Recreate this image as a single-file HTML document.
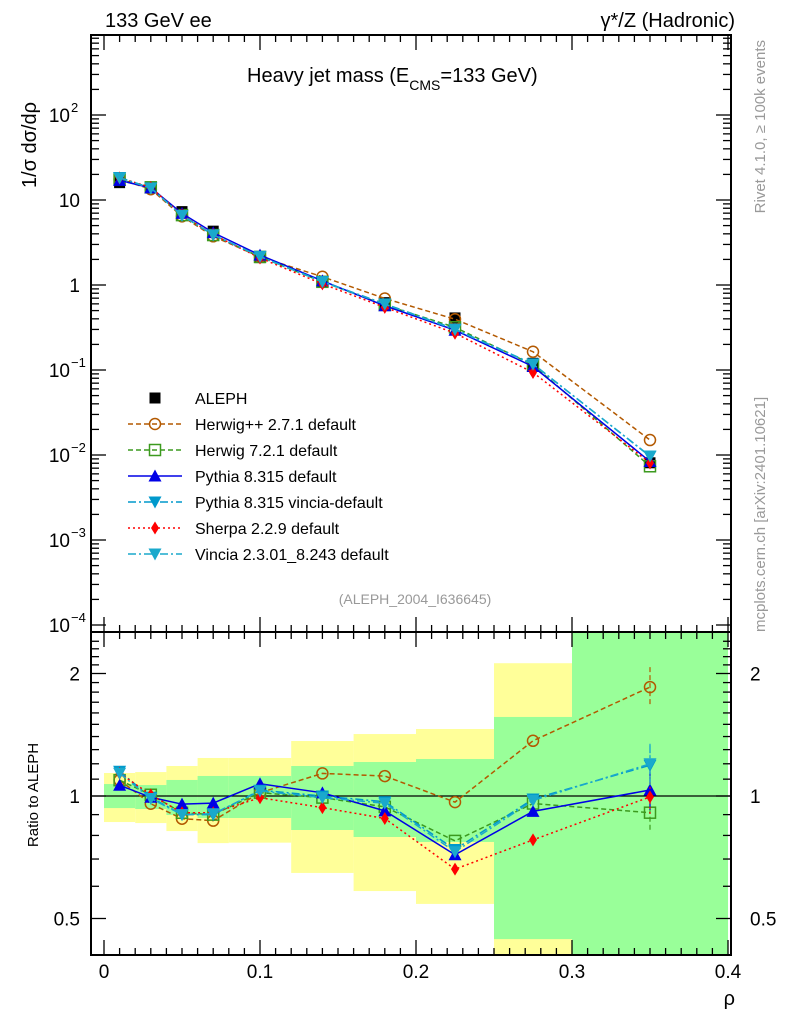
<!DOCTYPE html>
<html><head><meta charset="utf-8"><style>
body{margin:0;background:#fff;}
svg text{font-family:"Liberation Sans",sans-serif;}
</style></head><body>
<svg id="c" width="786" height="1024" xmlns="http://www.w3.org/2000/svg"></svg>
<script>
const xCenters=[0.01,0.03,0.05,0.07,0.1,0.14,0.18,0.225,0.275,0.35];
const binEdges=[0,0.02,0.04,0.06,0.08,0.12,0.16,0.2,0.25,0.3,0.4];
const alephVals=[16,14,7.3,4.3,2.1,1.1,0.62,0.41,0.12,0.0081];
const herwigppVals=[17.5,13.4,6.42,3.74,2.14,1.25,0.694,0.396,0.164,0.0150];
const herwig7Vals=[17.5,14.1,6.64,3.87,2.14,1.09,0.583,0.318,0.115,0.00737];
const pythiaVals=[17.0,13.9,6.97,4.13,2.25,1.12,0.570,0.294,0.110,0.00838];
const pythiaVinciaVals=[18.4,13.9,6.57,3.87,2.17,1.10,0.600,0.303,0.118,0.00964];
const sherpaVals=[18.2,14.1,6.64,3.91,2.08,1.03,0.546,0.271,0.0936,0.00806];
const vinciaVals=[18.2,13.8,6.57,3.89,2.16,1.09,0.595,0.299,0.117,0.00972];
const band1Hi=[1.139,1.145,1.185,1.24,1.24,1.365,1.42,1.461,2.12,4.0];
const band1Lo=[0.863,0.858,0.82,0.766,0.768,0.647,0.584,0.543,0.35,0.2];
const band2Hi=[1.07,1.064,1.095,1.12,1.12,1.185,1.212,1.233,1.564,3.0];
const band2Lo=[0.934,0.929,0.898,0.883,0.883,0.825,0.793,0.771,0.445,0.3];
const xTicks=[0,0.1,0.2,0.3,0.4];
const xTickLabels=["0","0.1","0.2","0.3","0.4"];
const yExp=[-4,-3,-2,-1,0,1,2];
const yTickLabels=["10","10","10","10","1","10","10"];
const rTicks=[0.5,1,2];
const rTickLabels=["0.5","1","2"];

const NS="http://www.w3.org/2000/svg";
const svg=document.getElementById('c');
function el(tag,attrs,parent){const e=document.createElementNS(NS,tag);for(const k in attrs)e.setAttribute(k,attrs[k]);(parent||svg).appendChild(e);return e;}
const L=91,R=731,T=35,M=632,B=955;
const X=v=>104+1560*v;
const Y=v=>285-85*Math.log10(v);
const RY=v=>796-122.5*Math.log2(v);
const clampR=y=>Math.max(M,Math.min(B,y));

// ratio bands
for(let i=0;i<band1Hi.length;i++){
  const x0=X(binEdges[i]),x1=Math.min(X(binEdges[i+1]),R);
  const y0=clampR(RY(band1Hi[i])),y1=clampR(RY(band1Lo[i]));
  const r=el('rect',{x:x0,y:y0,width:x1-x0,height:y1-y0,fill:'#ffff99'});
  
  
}
for(let i=0;i<band2Hi.length;i++){
  const x0=X(binEdges[i]),x1=Math.min(X(binEdges[i+1]),R);
  const y0=clampR(RY(band2Hi[i])),y1=clampR(RY(band2Lo[i]));
  const r=el('rect',{x:x0,y:y0,width:x1-x0,height:y1-y0,fill:'#99ff99'});
  
  
}
el('line',{x1:L,x2:R,y1:RY(1),y2:RY(1),stroke:'#000','stroke-width':1.3});

// frames
el('rect',{x:L,y:T,width:R-L,height:M-T,fill:'none',stroke:'#000','stroke-width':2});
el('rect',{x:L,y:M,width:R-L,height:B-M,fill:'none',stroke:'#000','stroke-width':2});

// x ticks
for(let v=0;v<=0.4001;v+=0.01){
  const major=Math.abs(v*10-Math.round(v*10))<1e-6;
  const len=major?15:7;
  for(const [yb,dir] of [[B,-1],[M,-1],[T,1],[M,1]]){
    el('line',{x1:X(v),x2:X(v),y1:yb,y2:yb+dir*len,stroke:'#000','stroke-width':1.3});
  }
}
xTicks.forEach((v,i)=>{const t=el('text',{x:X(v),y:978,'font-size':19,'text-anchor':'middle'});t.textContent=xTickLabels[i];
});
// main y ticks
for(let e=-4;e<=2;e++){
  for(let m=1;m<10;m++){
    const v=m*Math.pow(10,e);const y=Y(v);if(y<T||y>M)continue;
    const len=m==1?15:8;
    el('line',{x1:L,x2:L+len,y1:y,y2:y,stroke:'#000','stroke-width':1.3});
    el('line',{x1:R,x2:R-len,y1:y,y2:y,stroke:'#000','stroke-width':1.3});
  }
}
yExp.forEach((e,i)=>{
  const y=Y(Math.pow(10,e));
  const t=el('text',{x:e>=0&&e<2?80:70,y:y+7,'font-size':19,'text-anchor':'end'});
  t.textContent=yTickLabels[i];
  
  if(e<0||e==2){const s=el('text',{x:71,y:y-3,'font-size':13,'text-anchor':'start'});s.textContent=e==2?'2':'−'+(-e);}
});
// ratio ticks
for(let v=0.4;v<=2.5;v+=0.1){
  const y=RY(v);if(y<M||y>B)continue;
  const major=[0.5,1,2].some(t=>Math.abs(t-v)<1e-6);
  const len=major?15:8;
  el('line',{x1:L,x2:L+len,y1:y,y2:y,stroke:'#000','stroke-width':1.3});
  el('line',{x1:R,x2:R-len,y1:y,y2:y,stroke:'#000','stroke-width':1.3});
}
rTicks.forEach((v,i)=>{
  const y=RY(v);
  const a=el('text',{x:80,y:y+7,'font-size':19,'text-anchor':'end'});a.textContent=rTickLabels[i];
  
  const b=el('text',{x:750,y:y+7,'font-size':19,'text-anchor':'start'});b.textContent=rTickLabels[i];
  
});

// series
const series=[
 {name:'Herwig++ 2.7.1 default',vals:herwigppVals,color:'#b35900',dash:'5,3',mk:'circle'},
 {name:'Herwig 7.2.1 default',vals:herwig7Vals,color:'#3c9a1e',dash:'5,3',mk:'square'},
 {name:'Pythia 8.315 default',vals:pythiaVals,color:'#0000e6',dash:'',mk:'up'},
 {name:'Pythia 8.315 vincia-default',vals:pythiaVinciaVals,color:'#0099cc',dash:'8,3,2,3',mk:'down'},
 {name:'Sherpa 2.2.9 default',vals:sherpaVals,color:'#ff0000',dash:'2,3',mk:'diamond'},
 {name:'Vincia 2.3.01_8.243 default',vals:vinciaVals,color:'#1aa9cc',dash:'8,3,2,3',mk:'down'}
];
function marker(type,x,y,color,g){
  const s=5.5;
  if(type=='circle')return el('circle',{cx:x,cy:y,r:s,fill:'none',stroke:color,'stroke-width':1.5},g);
  if(type=='square')return el('rect',{x:x-s,y:y-s,width:2*s,height:2*s,fill:'none',stroke:color,'stroke-width':1.5},g);
  if(type=='fsquare')return el('rect',{x:x-s,y:y-s,width:2*s,height:2*s,fill:color},g);
  if(type=='up')return el('polygon',{points:`${x},${y-s-1} ${x-s-1},${y+s} ${x+s+1},${y+s}`,fill:color},g);
  if(type=='down')return el('polygon',{points:`${x},${y+s+1} ${x-s-1},${y-s} ${x+s+1},${y-s}`,fill:color},g);
  if(type=='diamond')return el('polygon',{points:`${x},${y-s-1} ${x-s+1.5},${y} ${x},${y+s+1} ${x+s-1.5},${y}`,fill:color},g);
}
// data points main
{
  const g=el('g',{});
  alephVals.forEach((v,i)=>{const m=marker('fsquare',X(xCenters[i]),Y(v),'#000',g);
    });
}
series.forEach(s=>{
  const g=el('g',{});
  const pts=s.vals.map((v,i)=>X(xCenters[i])+','+Y(v)).join(' ');
  el('polyline',{points:pts,fill:'none',stroke:s.color,'stroke-width':1.5,'stroke-dasharray':s.dash},g);
  s.vals.forEach((v,i)=>marker(s.mk,X(xCenters[i]),Y(v),s.color,g));
  const g2=el('g',{});
  const rp=s.vals.map((v,i)=>X(xCenters[i])+','+RY(v/alephVals[i])).join(' ');
  el('polyline',{points:rp,fill:'none',stroke:s.color,'stroke-width':1.5,'stroke-dasharray':s.dash},g2);
  s.vals.forEach((v,i)=>{
    const x=X(xCenters[i]),y=RY(v/alephVals[i]);
    if(i==9){el('line',{x1:x,x2:x,y1:y-20,y2:y+20,stroke:s.color,'stroke-width':1.2,'stroke-dasharray':s.dash},g2);}
    marker(s.mk,x,y,s.color,g2);
  });
});

// legend
const ly0=398;
{
  const m=marker('fsquare',155,ly0,'#000');
  
  const t=el('text',{x:195,y:ly0+6,'font-size':16});t.textContent='ALEPH';
  
}
series.forEach((s,i)=>{
  const y=ly0+26*(i+1);
  el('line',{x1:128,x2:182,y1:y,y2:y,stroke:s.color,'stroke-width':1.5,'stroke-dasharray':s.dash});
  marker(s.mk,155,y,s.color);
  const t=el('text',{x:195,y:y+6,'font-size':16});t.textContent=s.name;
  
});

// texts
function txt(x,y,size,str,name,extra){const t=el('text',Object.assign({x:x,y:y,'font-size':size},extra||{}));t.textContent=str;
 return t;}
txt(105,27,20,'133 GeV ee','energy-label');
txt(735,27,20,'γ*/Z (Hadronic)','process-label',{'text-anchor':'end'});
const title=txt(247,82,20,'','chart-title');
title.innerHTML='Heavy jet mass (E<tspan font-size="14" dy="8">CMS</tspan><tspan dy="-8">=133 GeV)</tspan>';
txt(415,604,14,'(ALEPH_2004_I636645)','analysis-id',{'text-anchor':'middle',fill:'#999'});
const yl=txt(0,0,20,'1/σ  dσ/dρ','y-axis-title',{transform:'translate(36,145) rotate(-90)','text-anchor':'middle'});
txt(0,0,15,'Ratio to ALEPH','ratio-axis-title',{transform:'translate(38,795) rotate(-90)','text-anchor':'middle'});
txt(735,1005,20,'ρ','x-axis-title',{'text-anchor':'end'});
txt(0,0,15,'Rivet 4.1.0, ≥ 100k events','rivet-label',{transform:'translate(765,40) rotate(-90)','text-anchor':'end',fill:'#999'});
txt(0,0,15,'mcplots.cern.ch [arXiv:2401.10621]','mcplots-label',{transform:'translate(765,632) rotate(-90)','text-anchor':'start',fill:'#999'});
</script>
</body></html>
